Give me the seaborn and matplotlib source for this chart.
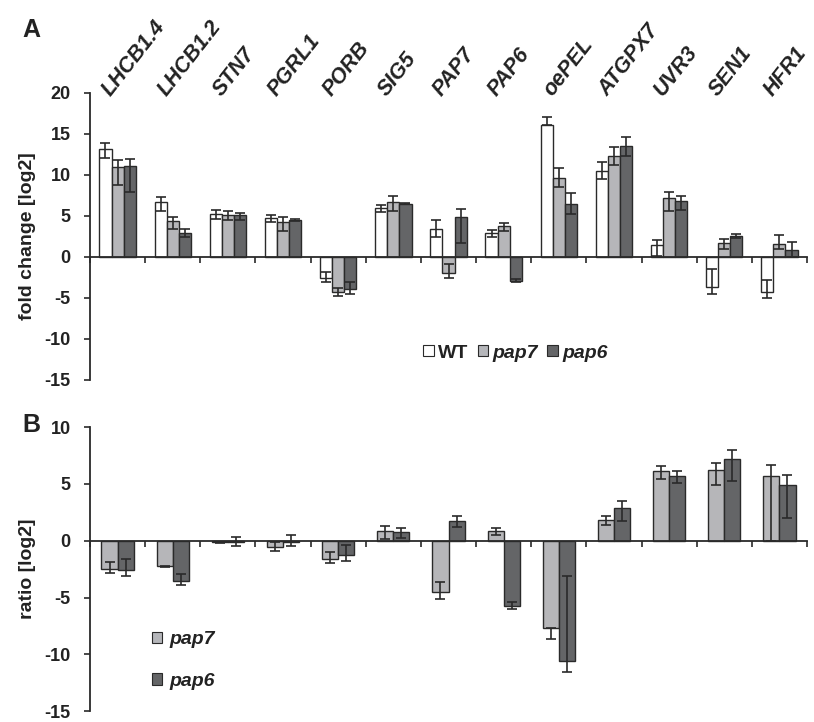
import matplotlib
matplotlib.use('Agg')
import matplotlib.pyplot as plt
import matplotlib.patches as mpatches
import seaborn as sns
import numpy as np
import pandas as pd

genes = ['LHCB1.4', 'LHCB1.2', 'STN7', 'PGRL1', 'PORB', 'SIG5', 'PAP7', 'PAP6',
         'oePEL', 'ATGPX7', 'UVR3', 'SEN1', 'HFR1']

# panel A: fold change [log2], bar value + whisker ends
wt = [13.2, 6.65, 5.3, 4.77, -2.6, 5.95, 3.46, 2.93, 16.06, 10.51, 1.47, -3.67, -4.28]
wt_hi = [13.94, 7.26, 5.71, 5.18, -1.83, 6.28, 4.52, 3.30, 17.1, 11.54, 2.12, -1.47, -2.77]
wt_lo = [12.03, 5.59, 4.65, 4.28, -3.09, 5.50, 2.44, 2.41, 16.06, 9.54, 0.08, -4.48, -5.01]

pap7 = [11.0, 4.36, 5.13, 4.28, -4.23, 6.72, -1.91, 3.75, 9.58, 12.27, 7.21, 1.71, 1.55]
pap7_hi = [11.82, 4.89, 5.63, 4.89, -3.74, 7.42, -0.81, 4.16, 10.8, 13.37, 7.95, 2.2, 2.69]
pap7_lo = [8.77, 3.42, 4.49, 3.14, -4.72, 5.59, -2.57, 3.18, 8.48, 11.25, 5.63, 0.98, 1.03]

pap6 = [11.09, 2.90, 5.06, 4.52, -3.87, 6.52, 4.93, -2.89, 6.52, 13.49, 6.77, 2.61, 0.82]
pap6_hi = [11.94, 3.39, 5.38, 4.65, -3.06, 6.57, 5.87, -2.69, 7.75, 14.67, 7.42, 2.81, 1.8]
pap6_lo = [7.95, 2.41, 4.49, 4.36, -4.52, 6.47, 1.67, -3.09, 5.30, 12.31, 5.71, 2.29, 0.0]

# panel B: ratio [log2]
r7 = [-2.48, -2.24, -0.12, -0.58, -1.6, 0.82, -4.52, 0.82, -7.64, 1.81, 6.09, 6.21, 5.69]
r7_hi = [-1.9, -2.19, -0.08, -0.15, -0.96, 1.31, -3.59, 1.08, -7.64, 2.13, 6.56, 6.85, 6.68]
r7_lo = [-2.83, -2.33, -0.16, -0.93, -1.98, 0.15, -5.1, 0.52, -8.69, 1.34, 5.39, 4.9, 0.0]

r6 = [-2.57, -3.56, -0.15, -0.1, -1.25, 0.73, 1.75, -5.74, -10.61, 2.92, 5.69, 7.2, 4.87]
r6_hi = [-1.6, -2.94, 0.29, 0.5, -0.38, 1.08, 2.13, -5.42, -3.09, 3.5, 6.12, 7.99, 5.74]
r6_lo = [-3.12, -3.94, -0.44, -0.5, -1.78, 0.26, 1.17, -5.98, -11.57, 1.75, 5.1, 5.28, 2.04]

colWT = '#ffffff'
col7 = '#b5b6ba'
col6 = '#646567'
edge = '#2a2a2a'
txt = '#222222'

sns.set_style('white')
plt.rcParams['font.family'] = ['Liberation Sans', 'DejaVu Sans']
plt.rcParams['font.weight'] = 'bold'

fig = plt.figure(figsize=(8.14, 7.22), dpi=100)
axA = fig.add_axes([0.1106, 0.4737, 0.8808, 0.3975])
axB = fig.add_axes([0.1106, 0.015, 0.8808, 0.3935])


def styleAxis(ax, ymin, ymax, label):
    ax.set_xlim(-0.5, len(genes) - 0.5)
    ax.set_ylim(ymin, ymax)
    ax.set_yticks(np.arange(ymin, ymax + 1, 5))
    ax.set_yticklabels([str(v) for v in np.arange(ymin, ymax + 1, 5)],
                       fontsize=13, fontweight='bold', color=txt)
    ax.set_xticks(np.arange(-0.5, len(genes), 1.0))
    ax.set_xticklabels([])
    ax.set_xlabel('')
    ax.set_ylabel(label, fontsize=14, fontweight='bold', color=txt, labelpad=6)
    for s in ['top', 'right']:
        ax.spines[s].set_visible(False)
    ax.spines['bottom'].set_position(('data', 0))
    ax.spines['bottom'].set_zorder(5)
    for s in ['left', 'bottom']:
        ax.spines[s].set_color(edge)
        ax.spines[s].set_linewidth(1.3)
    ax.tick_params(axis='y', left=True, direction='out', length=4, width=1.2,
                   color=edge, pad=10)
    ax.tick_params(axis='x', bottom=True, direction='out', length=4, width=1.2,
                   color=edge)
    ax.grid(False)


def addErr(ax, vals, los, his):
    for cont, v, lo, hi in zip(ax.containers, vals, los, his):
        xs = [b.get_x() + b.get_width() / 2 for b in cont]
        v = np.array(v)
        err = [v - np.array(lo), np.array(hi) - v]
        ax.errorbar(xs, v, yerr=err, fmt='none', ecolor=edge, elinewidth=1.2,
                    capsize=3.5, capthick=1.2, zorder=6)


# panel A
dfA = pd.DataFrame({
    'gene': genes * 3,
    'value': wt + pap7 + pap6,
    'line': ['WT'] * len(genes) + ['pap7'] * len(genes) + ['pap6'] * len(genes),
})
sns.barplot(data=dfA, x='gene', y='value', hue='line', ax=axA, order=genes,
            hue_order=['WT', 'pap7', 'pap6'],
            palette={'WT': colWT, 'pap7': col7, 'pap6': col6},
            edgecolor=edge, linewidth=1.0, width=0.66, errorbar=None, legend=False)
addErr(axA, [wt, pap7, pap6], [wt_lo, pap7_lo, pap6_lo], [wt_hi, pap7_hi, pap6_hi])
styleAxis(axA, -15, 20, 'fold change [log2]')

for i, g in enumerate(genes):
    axA.text(i - 0.12, 19.5, g, rotation=52, rotation_mode='anchor', ha='left',
             va='baseline', fontsize=15.5, fontweight='bold', fontstyle='italic',
             color=txt, clip_on=False)

hA = [mpatches.Patch(facecolor=c, edgecolor=edge, linewidth=0.8, label=l)
      for c, l in [(colWT, 'WT'), (col7, 'pap7'), (col6, 'pap6')]]
legA = axA.legend(handles=hA, loc='center', bbox_to_anchor=(0.593, 0.094), ncol=3,
                  frameon=False, fontsize=14, handlelength=0.55, handleheight=0.55,
                  handletextpad=0.2, columnspacing=0.5, borderpad=0)
for t in legA.get_texts():
    t.set_fontweight('bold')
    t.set_color(txt)
legA.get_texts()[1].set_fontstyle('italic')
legA.get_texts()[2].set_fontstyle('italic')

# panel B
dfB = pd.DataFrame({
    'gene': genes * 2,
    'value': r7 + r6,
    'line': ['pap7'] * len(genes) + ['pap6'] * len(genes),
})
sns.barplot(data=dfB, x='gene', y='value', hue='line', ax=axB, order=genes,
            hue_order=['pap7', 'pap6'], palette={'pap7': col7, 'pap6': col6},
            edgecolor=edge, linewidth=1.0, width=0.585, errorbar=None, legend=False)
addErr(axB, [r7, r6], [r7_lo, r6_lo], [r7_hi, r6_hi])
styleAxis(axB, -15, 10, 'ratio [log2]')

hB = [mpatches.Patch(facecolor=c, edgecolor=edge, linewidth=0.8, label=l)
      for c, l in [(col7, 'pap7'), (col6, 'pap6')]]
legB = axB.legend(handles=hB, loc='center left', bbox_to_anchor=(0.086, 0.178),
                  frameon=False, fontsize=14, handlelength=0.55, handleheight=0.55,
                  handletextpad=0.35, labelspacing=1.25, borderpad=0, borderaxespad=0)
for t in legB.get_texts():
    t.set_fontweight('bold')
    t.set_fontstyle('italic')
    t.set_color(txt)

fig.text(0.027, 0.958, 'A', fontsize=18, fontweight='bold', color=txt, va='center')
fig.text(0.027, 0.412, 'B', fontsize=18, fontweight='bold', color=txt, va='center')

fig.savefig('out.png', dpi=100)
